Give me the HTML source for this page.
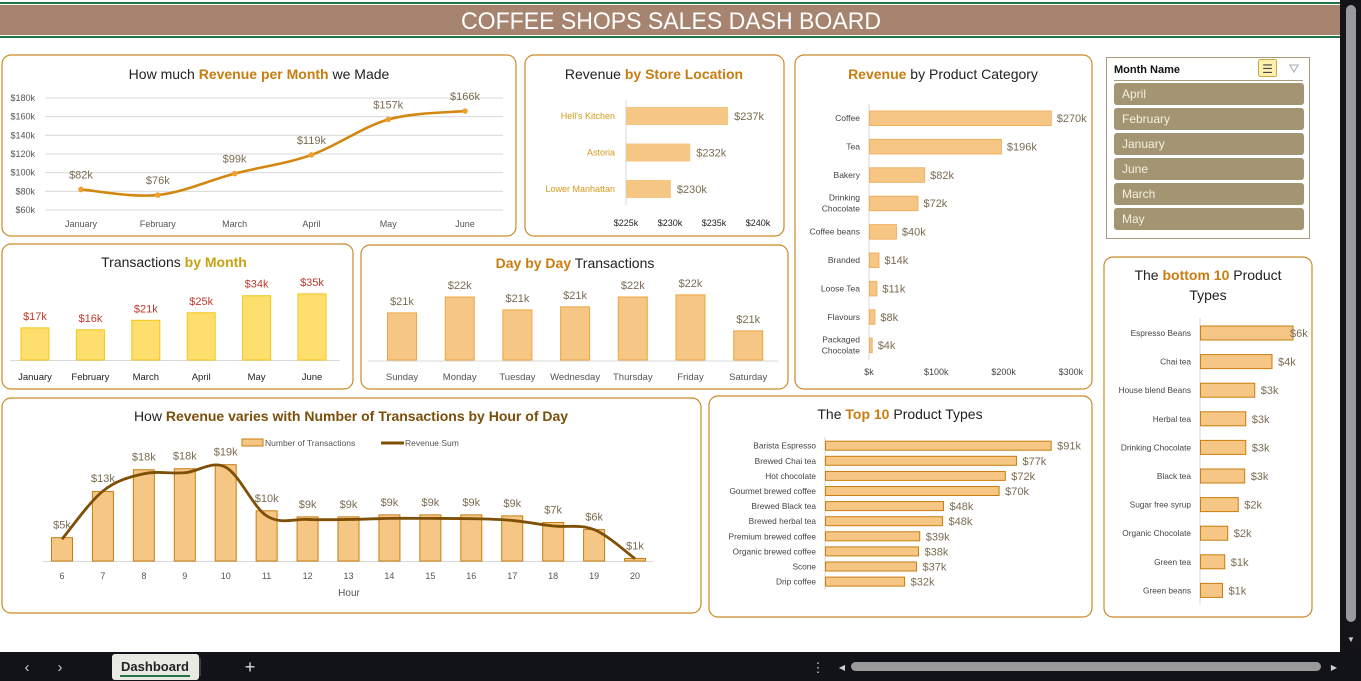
<!DOCTYPE html>
<html><head><meta charset="utf-8"><title>Coffee Shops Sales Dashboard</title>
<style>
html,body{margin:0;padding:0;background:#fff;width:1361px;height:681px;overflow:hidden}
svg{display:block;font-family:"Liberation Sans",Arial,sans-serif}
.pan{fill:#fff;stroke:#c98a26;stroke-width:1.2}
.ttl{font-size:14px;fill:#222}
.hl{fill:#c97d10;font-weight:bold}
.ax{font-size:9px;fill:#555}
.vl{font-size:11px;fill:#7b6b52}
</style></head><body>
<svg id="dash" width="1361" height="681" viewBox="0 0 1361 681">
<!-- header -->
<rect x="0" y="0" width="1340" height="681" fill="#fff"/>
<rect x="0" y="2" width="1340" height="2" fill="#217346"/>
<rect x="0" y="5" width="1340" height="30" fill="#a6846f"/>
<rect x="0" y="36" width="1340" height="2" fill="#217346"/>
<text x="671" y="29" text-anchor="middle" font-size="24" fill="#fff" textLength="420" lengthAdjust="spacingAndGlyphs">COFFEE SHOPS SALES DASH BOARD</text>

<!-- panels -->
<rect class="pan" x="2" y="55" width="514" height="181" rx="9"/>
<rect class="pan" x="525" y="55" width="259" height="181" rx="9"/>
<rect class="pan" x="795" y="55" width="297" height="334" rx="9"/>
<rect class="pan" x="2" y="244" width="351" height="145" rx="9"/>
<rect class="pan" x="361" y="245" width="427" height="144" rx="9"/>
<rect class="pan" x="2" y="398" width="699" height="215" rx="9"/>
<rect class="pan" x="709" y="396" width="383" height="221" rx="9"/>
<rect class="pan" x="1104" y="257" width="208" height="360" rx="9"/>

<text class="ttl" x="259" y="79" text-anchor="middle">How much <tspan class="hl">Revenue per Month</tspan>  we Made</text>
<text class="ttl" x="654" y="79" text-anchor="middle">Revenue <tspan class="hl">by Store Location</tspan></text>
<text class="ttl" x="943" y="79" text-anchor="middle"><tspan class="hl">Revenue</tspan> by Product Category</text>
<text class="ttl" x="174" y="267" text-anchor="middle">Transactions <tspan class="hl" fill="#c9a010" style="fill:#c9a010">by  Month</tspan></text>
<text class="ttl" x="575" y="268" text-anchor="middle"><tspan class="hl">Day by Day</tspan> Transactions</text>
<text class="ttl" x="351" y="421" text-anchor="middle">How <tspan font-weight="bold" fill="#7a4f0a">Revenue varies with Number of Transactions by Hour of Day</tspan></text>
<text class="ttl" x="900" y="419" text-anchor="middle">The <tspan class="hl">Top 10</tspan> Product Types</text>
<text class="ttl" x="1208" y="280" text-anchor="middle">The <tspan class="hl">bottom 10</tspan> Product</text>
<text class="ttl" x="1208" y="300" text-anchor="middle">Types</text>

<!-- slicer -->
<g>
<rect x="1106.5" y="57.5" width="203" height="181" fill="#fff" stroke="#a89a7a"/>
<text x="1114" y="73" font-size="11" font-weight="bold" fill="#111">Month Name</text>
<rect x="1258.5" y="59.5" width="18" height="17" rx="2" fill="#fdf0b0" stroke="#c9a840"/>
<text x="1267.5" y="73" font-size="12" text-anchor="middle" fill="#444">☰</text>
<text x="1294" y="73" font-size="13" text-anchor="middle" fill="#aaa">⛛</text>
<line x1="1114" y1="80.5" x2="1303" y2="80.5" stroke="#a89a7a"/>
<g id="slicerItems"></g>
</g>

<g id="charts"></g>

<!-- right scrollbar -->
<rect x="1340" y="0" width="21" height="652" fill="#141418"/>
<rect x="1346" y="5" width="10" height="617" rx="5" fill="#9a9a9a"/>
<text x="1351" y="642" font-size="8" text-anchor="middle" fill="#ccc">▼</text>
<!-- bottom bar -->
<rect x="0" y="652" width="1361" height="29" fill="#121219"/>
<text x="27" y="672" font-size="15" fill="#ccc" text-anchor="middle">‹</text>
<text x="60" y="672" font-size="15" fill="#ccc" text-anchor="middle">›</text>
<rect x="112" y="654" width="87" height="26" rx="3" fill="#e9e9e4"/>
<text x="155" y="671" font-size="13" font-weight="bold" fill="#222" text-anchor="middle">Dashboard</text>
<rect x="120" y="675" width="70" height="2" fill="#217346"/>
<line x1="200" y1="658" x2="200" y2="676" stroke="#666"/>
<text x="250" y="673" font-size="18" fill="#ddd" text-anchor="middle">+</text>
<text x="818" y="672" font-size="13" fill="#ccc" text-anchor="middle">⋮</text>
<text x="842" y="670" font-size="8" fill="#ccc" text-anchor="middle">◀</text>
<rect x="851" y="662" width="470" height="9" rx="4.5" fill="#9a9a9a"/>
<text x="1334" y="670" font-size="8" fill="#ccc" text-anchor="middle">▶</text>
</svg>
<script>
// ---- data ----
const slicerMonths = ["April","February","January","June","March","May"];
const revMonths = ["January","February","March","April","May","June"];
const revValues = [82,76,99,119,157,166];
const revLabels = ["$82k","$76k","$99k","$119k","$157k","$166k"];
const revTicks = [60,80,100,120,140,160,180];
const stores = ["Hell's Kitchen","Astoria","Lower Manhattan"];
const storeValues = [236.6,232.3,230.1];
const storeLabels = ["$237k","$232k","$230k"];
const storeTicks = [225,230,235,240];
const categories = ["Coffee","Tea","Bakery","Drinking|Chocolate","Coffee beans","Branded","Loose Tea","Flavours","Packaged|Chocolate"];
const catValues = [270,196,82,72,40,14,11,8,4];
const catLabels = ["$270k","$196k","$82k","$72k","$40k","$14k","$11k","$8k","$4k"];
const catTicks = [0,100,200,300];
const tmMonths = ["January","February","March","April","May","June"];
const tmValues = [17,16,21,25,34,35];
const tmLabels = ["$17k","$16k","$21k","$25k","$34k","$35k"];
const days = ["Sunday","Monday","Tuesday","Wednesday","Thursday","Friday","Saturday"];
const dayValues = [21.37,21.9,21.47,21.57,21.9,21.97,20.77];
const dayLabels = ["$21k","$22k","$21k","$21k","$22k","$22k","$21k"];
const hours = [6,7,8,9,10,11,12,13,14,15,16,17,18,19,20];
const hourTrans = [4.6,13.7,18.0,18.2,19.0,9.9,8.7,8.7,9.1,9.1,9.1,8.9,7.6,6.2,0.5];
const hourRevenue = [4.3,13.8,17.2,17.4,18.5,8.9,8.2,8.2,8.4,8.4,8.35,8.0,6.9,6.2,0.45];
const hourLabels = ["$5k","$13k","$18k","$18k","$19k","$10k","$9k","$9k","$9k","$9k","$9k","$9k","$7k","$6k","$1k"];
const topProducts = ["Barista Espresso","Brewed Chai tea","Hot chocolate","Gourmet brewed coffee","Brewed Black tea","Brewed herbal tea","Premium brewed coffee","Organic brewed coffee","Scone","Drip coffee"];
const topValues = [91,77,72.5,70,47.6,47.2,38,37.5,36.7,31.9];
const topLabels = ["$91k","$77k","$72k","$70k","$48k","$48k","$39k","$38k","$37k","$32k"];
const botProducts = ["Espresso Beans","Chai tea","House blend Beans","Herbal tea","Drinking Chocolate","Black tea","Sugar free syrup","Organic Chocolate","Green tea","Green beans"];
const botValues = [6.2,4.8,3.65,3.05,3.05,2.98,2.55,1.85,1.65,1.5];
const botLabels = ["$6k","$4k","$3k","$3k","$3k","$3k","$2k","$2k","$1k","$1k"];

const NS="http://www.w3.org/2000/svg";
const root=document.getElementById('charts');
function add(parent,tag,attrs,txt){const e=document.createElementNS(NS,tag);for(const k in attrs)e.setAttribute(k,attrs[k]);if(txt!==undefined)e.textContent=txt;parent.appendChild(e);return e;}
function smooth(pts){let d="M"+pts[0][0]+","+pts[0][1];for(let i=0;i<pts.length-1;i++){const p0=pts[i-1]||pts[i],p1=pts[i],p2=pts[i+1],p3=pts[i+2]||p2;const t=6;d+=" C"+(p1[0]+(p2[0]-p0[0])/t)+","+(p1[1]+(p2[1]-p0[1])/t)+" "+(p2[0]-(p3[0]-p1[0])/t)+","+(p2[1]-(p3[1]-p1[1])/t)+" "+p2[0]+","+p2[1];}return d;}

// slicer
const si=document.getElementById('slicerItems');
slicerMonths.forEach((m,i)=>{
 const r=add(si,'rect',{x:1114,y:83+i*25,width:190,height:22,rx:3,fill:'#a39572'});
 
 
 const t=add(si,'text',{x:1122,y:98+i*25,'font-size':12,fill:'#f4efe2'},m);
 
 
});

// revenue per month
{const g=add(root,'g',{});
 
 
 const y=v=>210-(v-60)*112/120, x=i=>81+i*76.8;
 revTicks.forEach(t=>{
  const l=add(g,'line',{x1:45,x2:503,y1:y(t),y2:y(t),stroke:'#d9d9d9'});
  
  
  const tx=add(g,'text',{x:35,y:y(t)+3,'text-anchor':'end',class:'ax'},'$'+t+'k');
  
  
 });
 const pts=revValues.map((v,i)=>[x(i),y(v)]);
 const p=add(g,'path',{d:smooth(pts),fill:'none',stroke:'#d4870f','stroke-width':2.6});
 
 
 revValues.forEach((v,i)=>{
  const c=add(g,'circle',{cx:x(i),cy:y(v),r:2.8,fill:'#f0a030'});
  
  
  const t=add(g,'text',{x:x(i),y:y(v)-11,'text-anchor':'middle',class:'vl'},revLabels[i]);
  
  
  const m=add(g,'text',{x:x(i),y:227,'text-anchor':'middle',class:'ax'},revMonths[i]);
  
  
 });
}

// store location
{const g=add(root,'g',{});
 
 
 const x=v=>626+(v-225)*8.8;
 const ax=add(g,'line',{x1:626,x2:626,y1:100,y2:205,stroke:'#d9d9d9'});
 
 
 stores.forEach((s,i)=>{
  const cy=116+i*36.5;
  const r=add(g,'rect',{x:626,y:cy-9,width:x(storeValues[i])-626,height:18,fill:'#f5c684'});
  
  
  const t=add(g,'text',{x:615,y:cy+3,'text-anchor':'end','font-size':9,fill:'#d29a1a'},s);
  
  
  const v=add(g,'text',{x:x(storeValues[i])+6,y:cy+4,class:'vl'},storeLabels[i]);
  
  
 });
 storeTicks.forEach(t=>{
  const tx=add(g,'text',{x:x(t),y:226,'text-anchor':'middle','font-size':9,fill:'#222'},'$'+t+'k');
  
  
 });
}

// product category
{const g=add(root,'g',{});
 
 
 const x=v=>869+v*0.673;
 const ax=add(g,'line',{x1:869,x2:869,y1:104,y2:360,stroke:'#d9d9d9'});
 
 
 categories.forEach((c,i)=>{
  const cy=118+i*28.4;
  const r=add(g,'rect',{x:869.5,y:cy-7,width:x(catValues[i])-869,height:14.5,fill:'#f5c684',stroke:'#f0b060'});
  
  
  const parts=c.split('|');
  parts.forEach((p,j)=>{
   const t=add(g,'text',{x:860,y:cy+3+(j-(parts.length-1)/2)*11,'text-anchor':'end','font-size':8.5,fill:'#444'},p);
   
   
  });
  const v=add(g,'text',{x:x(catValues[i])+6,y:cy+4,class:'vl'},catLabels[i]);
  
  
 });
 catTicks.forEach(t=>{
  const tx=add(g,'text',{x:x(t),y:375,'text-anchor':'middle','font-size':9,fill:'#444'},'$'+(t?t:'')+'k');
  
  
 });
}

// transactions by month
{const g=add(root,'g',{});
 
 
 const x=i=>35+i*55.4, h=v=>v*1.89;
 const b=add(g,'line',{x1:10,x2:340,y1:360.5,y2:360.5,stroke:'#d9d9d9'});
 
 
 tmValues.forEach((v,i)=>{
  const r=add(g,'rect',{x:x(i)-14,y:360-h(v),width:28,height:h(v),fill:'#fedf6e',stroke:'#f5c518'});
  
  
  const t=add(g,'text',{x:x(i),y:360-h(v)-8,'text-anchor':'middle','font-size':11,fill:'#c0392b'},tmLabels[i]);
  
  
  const m=add(g,'text',{x:x(i),y:380,'text-anchor':'middle','font-size':9.5,fill:'#222'},tmMonths[i]);
  
  
 });
}

// day by day
{const g=add(root,'g',{});
 
 
 const x=i=>402+i*57.7, h=v=>(v-19.8)*30;
 const b=add(g,'line',{x1:368,x2:778,y1:361,y2:361,stroke:'#d9d9d9'});
 
 
 dayValues.forEach((v,i)=>{
  const r=add(g,'rect',{x:x(i)-14.5,y:360-h(v),width:29,height:h(v),fill:'#f5c684',stroke:'#eda640'});
  
  
  const t=add(g,'text',{x:x(i),y:360-h(v)-8,'text-anchor':'middle',class:'vl'},dayLabels[i]);
  
  
  const m=add(g,'text',{x:x(i),y:380,'text-anchor':'middle','font-size':9.5,fill:'#555'},days[i]);
  
  
 });
}

// hour chart
{const g=add(root,'g',{});
 
 
 const x=i=>62+i*40.93, h=v=>v*5.07, base=561;
 const b=add(g,'line',{x1:42,x2:654,y1:base+0.5,y2:base+0.5,stroke:'#d9d9d9'});
 
 
 const lr=add(g,'rect',{x:242,y:439,width:21,height:7,fill:'#f5c684',stroke:'#c97d10'});
 
 
 const lt=add(g,'text',{x:265,y:446,'font-size':8.5,fill:'#555'},'Number of Transactions');
 
 
 const ll=add(g,'line',{x1:381,x2:404,y1:443,y2:443,stroke:'#7f4f06','stroke-width':3});
 
 
 const lt2=add(g,'text',{x:405,y:446,'font-size':8.5,fill:'#555'},'Revenue Sum');
 
 
 hourTrans.forEach((v,i)=>{
  const r=add(g,'rect',{x:x(i)-10.5,y:base-h(v),width:21,height:h(v),fill:'#f5c684',stroke:'#c97d10'});
  
  
  const m=add(g,'text',{x:x(i),y:579,'text-anchor':'middle','font-size':9,fill:'#555'},hours[i]);
  
  
 });
 const pts=hourRevenue.map((v,i)=>[x(i),base-h(v)]);
 const p=add(g,'path',{d:smooth(pts),fill:'none',stroke:'#7f4f06','stroke-width':2.8});
 
 
 hourLabels.forEach((lab,i)=>{
  const top=base-Math.max(h(hourTrans[i]),h(hourRevenue[i]));
  const t=add(g,'text',{x:x(i),y:top-9,'text-anchor':'middle',class:'vl'},lab);
  
  
 });
 const at=add(g,'text',{x:349,y:596,'text-anchor':'middle','font-size':10,fill:'#555'},'Hour');
 
 
}

// top 10
{const g=add(root,'g',{});
 
 
 const x=v=>825.5+v*2.48;
 const ax=add(g,'line',{x1:825,x2:825,y1:437,y2:590,stroke:'#d9d9d9'});
 
 
 topProducts.forEach((c,i)=>{
  const cy=445.7+i*15.1;
  const r=add(g,'rect',{x:825.5,y:cy-4.5,width:x(topValues[i])-825.5,height:9,fill:'#f5c684',stroke:'#c97d10'});
  
  
  const t=add(g,'text',{x:816,y:cy+3,'text-anchor':'end','font-size':8.3,fill:'#444'},c);
  
  
  const v=add(g,'text',{x:x(topValues[i])+6,y:cy+4,class:'vl'},topLabels[i]);
  
  
 });
}

// bottom 10
{const g=add(root,'g',{});
 
 
 const x=v=>1200+v*15;
 const ax=add(g,'line',{x1:1200,x2:1200,y1:318,y2:605,stroke:'#d9d9d9'});
 
 
 botProducts.forEach((c,i)=>{
  const cy=333+i*28.6;
  const r=add(g,'rect',{x:1200.5,y:cy-7,width:x(botValues[i])-1200.5,height:14,fill:'#f5c684',stroke:'#c97d10'});
  
  
  const t=add(g,'text',{x:1191,y:cy+3,'text-anchor':'end','font-size':8.3,fill:'#444'},c);
  
  
  const v=add(g,'text',{x:x(botValues[i])+(i==0?-3:6),y:cy+4,class:'vl'},botLabels[i]);
  
  
 });
}
</script>
</body></html>
